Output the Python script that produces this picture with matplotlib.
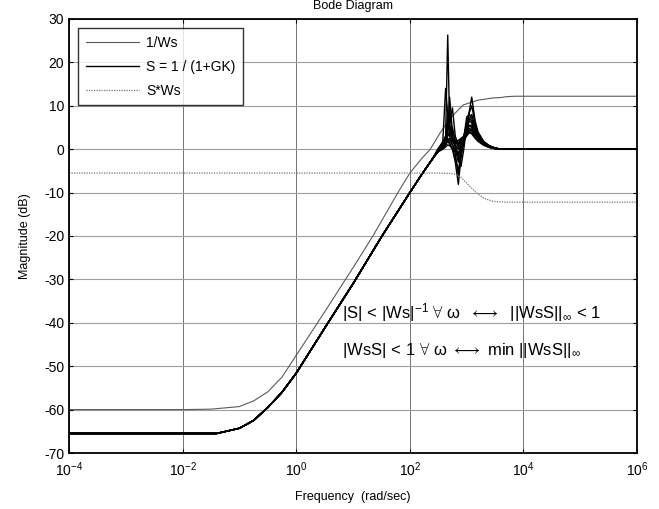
import numpy as np
import matplotlib
matplotlib.use('Agg')
import matplotlib.pyplot as plt
from matplotlib.ticker import FixedLocator, LogFormatterSciNotation, NullLocator

plt.rcParams['font.family'] = ['Liberation Sans', 'DejaVu Sans']
plt.rcParams['mathtext.fontset'] = 'custom'
plt.rcParams['mathtext.rm'] = 'Liberation Sans'
plt.rcParams['mathtext.it'] = 'Liberation Sans'
plt.rcParams['mathtext.fallback'] = 'cm'
plt.rcParams['axes.unicode_minus'] = False

# 1/Ws (log10 frequency, dB)
inv_ws_logw = [-4, -2, -1.5, -1, -0.75, -0.5, -0.25, 0, 0.5, 1, 1.35, 1.79, 2.0,
               2.2, 2.36, 2.53, 2.7, 2.94, 3.2, 3.46, 3.6, 3.7, 3.85, 6]
inv_ws_db = [-60, -60, -59.9, -59.3, -58, -55.9, -52.5, -47.5, -37.5, -27.3, -20, -10, -5.5,
             -2.3, 0, 3.7, 7, 10.2, 11.3, 11.8, 11.9, 12.1, 12.2, 12.2]

# S*Ws
sws_logw = [-4, 2.5, 2.75, 2.88, 3.0, 3.15, 3.3, 3.46, 3.7, 6]
sws_db = [-5.5, -5.5, -5.6, -6.2, -7.8, -9.8, -11.3, -12.0, -12.2, -12.2]

# S = 1/(1+GK), common low-frequency part
s_low_logw = [-4, -1.4, -1, -0.75, -0.5, -0.25, 0, 0.56, 1.0, 1.51, 2.0, 2.2]
s_low_db = [-65.5, -65.5, -64.3, -62.5, -59.5, -56, -51.6, -40, -31, -20, -10, -6]

# resonant region, one row per plant sample
s_res_logw = [2.4, 2.5, 2.58, 2.63, 2.667, 2.7, 2.75, 2.8, 2.854, 2.9, 2.95,
              3.0, 3.05, 3.09, 3.15, 3.2, 3.3, 3.4, 3.5, 3.6]
s_res_db = [
    [-2.2, 0.2, 1.5, 3, 26.3, 6, 2.5, 1.5, 2, 2.5, 3, 3.5, 4, 3.8, 2.8, 2, 1, 0.5, 0.2, 0],
    [-2.2, 0, 1.8, 14, 8, 4, 2, 1.5, 2, 2.2, 2.8, 4, 5.5, 5, 3.3, 2.3, 1.1, 0.5, 0.2, 0],
    [-2.2, 0, 1.5, 3, 5, 6, 9.5, 3, 1, 2, 3, 5, 6.5, 6, 3.8, 2.6, 1.2, 0.6, 0.2, 0],
    [-2.2, -0.5, 0.5, 1.5, 2, 1.5, 0, -3, -8.1, -2, 2, 6, 9, 12, 6.5, 4, 1.8, 0.8, 0.3, 0],
    [-2.2, -0.5, 0.5, 1, 1.8, 1.2, 0, -2, -5, -1, 2.5, 7.4, 8, 7, 4.8, 3.2, 1.5, 0.7, 0.2, 0],
    [-2.2, -0.3, 0.8, 2, 4, 3, 1, 0, -3, 0, 3, 6, 7, 6.5, 4.2, 2.8, 1.3, 0.6, 0.2, 0],
    [-2.2, -0.2, 1, 2.5, 6, 5, 2, 0.5, -1, 1, 3, 5, 5.5, 5, 3.5, 2.4, 1.1, 0.5, 0.2, 0],
    [-2.2, -0.4, 0.4, 1.2, 2.5, 2, 1, -1, -6, -1.5, 1.5, 4, 8.5, 10, 5.8, 3.7, 1.7, 0.8, 0.3, 0],
    [-2.2, -0.6, 0, 0.5, 1, 0.8, 0.2, -0.5, -1.5, 0.5, 2, 3, 4, 4.5, 3.2, 2.2, 1, 0.5, 0.2, 0],
    [-2.2, 0, 1.2, 2.8, 8, 4, 2.5, 1.5, 1, 1.8, 2.5, 3.5, 4.5, 4.2, 3, 2.1, 1, 0.4, 0.1, 0],
    [-2.2, -0.3, 0.6, 1.8, 3.5, 9, 3, 1, 0, 1.5, 3, 4.5, 5.5, 5.5, 3.8, 2.5, 1.2, 0.5, 0.2, 0],
    [-2.2, -0.5, 0.3, 1, 2, 2.5, 1.8, 1, -2, -4, 0, 5, 7, 8, 5, 3.4, 1.6, 0.7, 0.3, 0],
    [-2.2, -0.2, 1, 2, 4.5, 12, 4, 2, 1.5, 2, 2.5, 3.2, 3.8, 3.5, 2.5, 1.8, 0.9, 0.4, 0.1, 0],
    [-2.2, -0.4, 0.5, 1.5, 3, 3.5, 5, 2, 0.5, 1, 2, 3.5, 4.8, 4.5, 3.2, 2.2, 1, 0.5, 0.2, 0],
]
s_high_logw = [6]
s_high_db = [0]

fig = plt.figure(figsize=(6.59, 5.09), dpi=100)
ax = fig.add_axes([0.1047, 0.110, 0.862, 0.8527])

w_inv = 10.0 ** np.array(inv_ws_logw)
w_sws = 10.0 ** np.array(sws_logw)
l1, = ax.semilogx(w_inv, inv_ws_db, color='0.35', lw=0.8, label='1/Ws')
s_lines = []
for row in s_res_db:
    lw_all = s_low_logw + s_res_logw + s_high_logw
    db_all = s_low_db + row + s_high_db
    ln, = ax.semilogx(10.0 ** np.array(lw_all), db_all, color='black', lw=1.0)
    s_lines.append(ln)
l2 = s_lines[0]
l2.set_label('S = 1 / (1+GK)')
l3, = ax.semilogx(w_sws, sws_db, color='0.45', lw=0.9, ls=(0, (1, 1)), label='S*Ws')

ax.set_xlim(1e-4, 1e6)
ax.set_ylim(-70, 30)
ax.xaxis.set_major_locator(FixedLocator([1e-4, 1e-2, 1e0, 1e2, 1e4, 1e6]))
ax.xaxis.set_major_formatter(LogFormatterSciNotation())
ax.xaxis.set_minor_locator(NullLocator())
ax.set_yticks(np.arange(-70, 31, 10))
ax.yaxis.grid(True, color='0.62', lw=0.8)
ax.xaxis.grid(True, color='0.45', lw=0.7)
ax.tick_params(direction='in', top=True, right=True, labelsize=10, length=3)
ax.tick_params(axis='x', pad=5)
for s in ax.spines.values():
    s.set_linewidth(1.3)

ax.set_xlabel('Frequency  (rad/sec)', fontsize=9, labelpad=9)
ax.set_ylabel('Magnitude (dB)', fontsize=9, labelpad=9)
fig.text(353 / 659, 1.0, 'Bode Diagram', fontsize=9, ha='center', va='top')

leg = ax.legend(handles=[l1, l2, l3], loc='upper left', bbox_to_anchor=(0.016, 0.979),
                fontsize=10, frameon=True, fancybox=False, edgecolor='black',
                handlelength=3.8, handletextpad=0.55, borderaxespad=0, labelspacing=0.72,
                borderpad=0.55)
leg.get_frame().set_linewidth(1.0)

ax.text(342 / 659, 1 - 313 / 509,
        r'$|S|\,<\,|Ws|^{-1}\ \forall\ \omega\ \ \longleftrightarrow\ \ ||WsS||_{\infty}\,<\,1$',
        transform=fig.transFigure, fontsize=12, va='center', ha='left')
ax.text(342 / 659, 1 - 351 / 509,
        r'$|WsS|\,<\,1\ \forall\ \omega\ \longleftrightarrow\ \mathrm{min}\ ||WsS||_{\infty}$',
        transform=fig.transFigure, fontsize=12, va='center', ha='left')

fig.savefig('out.png', dpi=100)
